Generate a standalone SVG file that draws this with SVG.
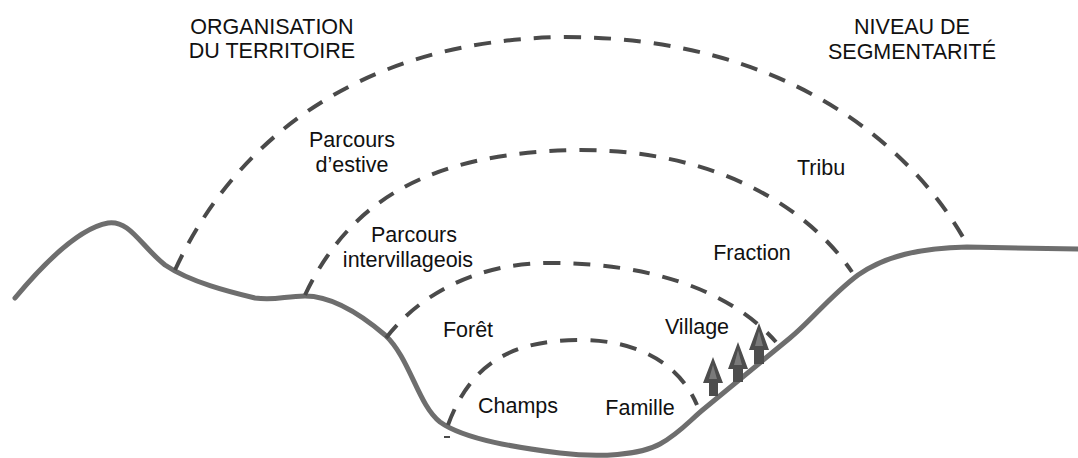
<svg xmlns="http://www.w3.org/2000/svg" width="1078" height="458" viewBox="0 0 1078 458">
<style>
.lbl{font-family:"Liberation Sans",Arial,sans-serif;font-size:21.5px;fill:#111;text-anchor:middle}
.hd{font-family:"Liberation Sans",Arial,sans-serif;font-size:21.5px;fill:#111;text-anchor:middle}
.arc{fill:none;stroke:#4a4a4a;stroke-width:4;stroke-dasharray:17 13}
.ground{fill:none;stroke:#6e6e6e;stroke-width:5;stroke-linecap:round;stroke-linejoin:round}
.arw{fill:#4d4d4d}
.arwi{fill:#7a7a7a}
</style>
<rect width="1078" height="458" fill="#fff"/>
<g id="terrain">
<path class="ground" d="M15,298 C45,262 80,228 108,223 C130,220 140,245 165,265 C190,282 230,292 255,298 C275,301 285,296 305,296 C335,296 365,318 385,335 C410,358 418,405 440,422 C465,440 520,448 560,453 C600,458 640,455 660,444 C680,433 690,420 705,408 L790,338 C810,322 830,296 858,275 C885,256 920,248 967,247 L1078,249"/>
</g>
<g id="connectors">
<path class="arc" d="M175,270 C230,150 350,40 565,37 C780,37 910,140 968,246"/>
<path class="arc" d="M305,295 C350,200 430,152 580,150 C720,150 810,210 852,272"/>
<path class="arc" d="M386,338 C415,300 470,263 550,263 C650,263 730,290 776,342"/>
<path class="arc" d="M448,425 C470,365 510,340 580,340 C640,340 680,365 697,405"/>
<line x1="444" y1="437" x2="450" y2="437" stroke="#4a4a4a" stroke-width="2"/>
</g>
<g id="arrows">
<g id="arrow1"><polygon class="arw" points="713,357 723,383 718,383 718,396 709,396 709,383 703,383"/><polygon class="arwi" points="713,365 717,379 709,379"/></g>
<g id="arrow2"><polygon class="arw" points="738,342 748,369 743,369 743,382 733,382 733,369 728,369"/><polygon class="arwi" points="738,350 742,365 734,365"/></g>
<g id="arrow3"><polygon class="arw" points="759,323 769,350 764,350 764,364 754,364 754,350 749,350"/><polygon class="arwi" points="759,331 763,346 755,346"/></g>
</g>
<g id="head-left"><text class="hd" x="272" y="34">ORGANISATION</text><text class="hd" x="272" y="58">DU TERRITOIRE</text></g>
<g id="head-right"><text class="hd" x="912" y="34">NIVEAU DE</text><text class="hd" x="912" y="59">SEGMENTARITÉ</text></g>
<g id="parcours-estive"><text class="lbl" x="352" y="147">Parcours</text><text class="lbl" x="352" y="172">d’estive</text></g>
<g id="tribu"><text class="lbl" x="821" y="175">Tribu</text></g>
<g id="parcours-inter"><text class="lbl" x="414" y="242">Parcours</text><text class="lbl" x="408" y="267">intervillageois</text></g>
<g id="fraction"><text class="lbl" x="752" y="260">Fraction</text></g>
<g id="foret"><text class="lbl" x="468" y="337">Forêt</text></g>
<g id="village"><text class="lbl" x="697" y="334">Village</text></g>
<g id="champs"><text class="lbl" x="518" y="413">Champs</text></g>
<g id="famille"><text class="lbl" x="640" y="415">Famille</text></g>
</svg>
